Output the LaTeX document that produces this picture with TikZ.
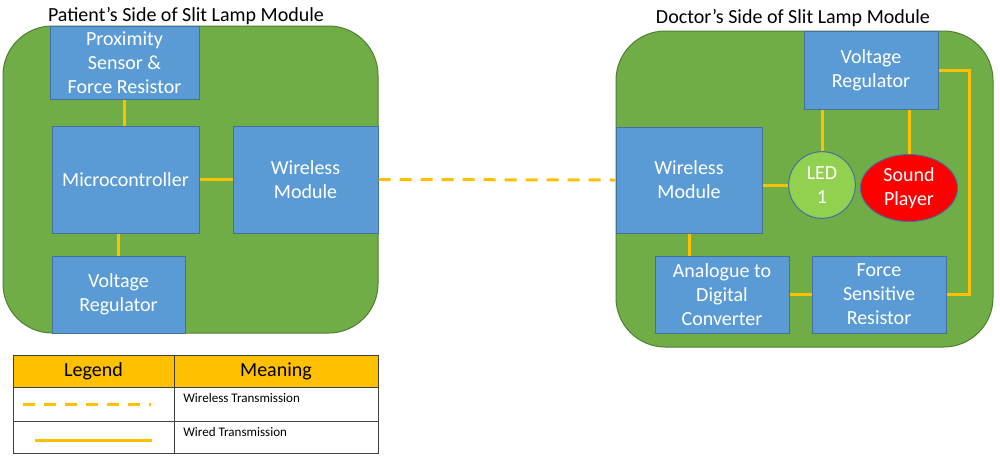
\documentclass[tikz,border=0pt]{standalone}
\usepackage{fontspec}
\setmainfont{Carlito}
\usetikzlibrary{shapes.geometric}
\definecolor{panelgreen}{HTML}{70AD47}
\definecolor{panelborder}{HTML}{507E32}
\definecolor{boxblue}{HTML}{5B9BD5}
\definecolor{boxborder}{HTML}{41719C}
\definecolor{wire}{HTML}{FFC000}
\definecolor{ledgreen}{HTML}{92D050}
\definecolor{sndred}{HTML}{FF0000}
\definecolor{tablegray}{HTML}{404040}
\tikzset{
  panel/.style={fill=panelgreen, draw=panelborder, line width=0.75pt, rounded corners=37pt},
  box/.style={fill=boxblue, draw=boxborder, line width=0.75pt, inner sep=0pt, text=white, align=center,
    font=\fontsize{15}{18}\selectfont},
  wired/.style={draw=wire, line width=2.25pt},
  wireless/.style={draw=wire, line width=2.25pt, dash pattern=on 9pt off 6.75pt},
  title/.style={font=\fontsize{15}{18}\selectfont, text=black},
  cell/.style={draw=tablegray, line width=0.75pt, inner sep=0pt},
  small/.style={font=\fontsize{9.8}{11}\selectfont, text=black, anchor=west, inner sep=0pt}
}
\begin{document}
\begin{tikzpicture}[x=0.75pt, y=-0.75pt]
\useasboundingbox (0,0) rectangle (1000,462);
% panels
\draw[panel] (3,26) rectangle (378,333);
\draw[panel] (616,31) rectangle (993,347);
% titles
\node[title] (ltitle) at (186,16) {Patient’s Side of Slit Lamp Module};
\node[title] (rtitle) at (793,18) {Doctor’s Side of Slit Lamp Module};
% left side boxes
\node[box, minimum width=111.75pt, minimum height=54.75pt] (prox) at (124.5,62.5) {Proximity\\Sensor \&\\Force Resistor};
\node[box, minimum width=110.25pt, minimum height=80.25pt] (micro) at (125.5,179.5) {Microcontroller};
\node[box, minimum width=108.75pt, minimum height=80.25pt] (wl) at (305.5,179.5) {Wireless\\Module};
\node[box, minimum width=99.75pt, minimum height=57.75pt] (vrl) at (118.5,294.5) {Voltage\\Regulator};
% right side boxes
\node[box, minimum width=100.5pt, minimum height=58.5pt] (vrr) at (871,70) {Voltage\\Regulator};
\node[box, minimum width=109.5pt, minimum height=79.5pt] (wr) at (689,180) {Wireless\\Module};
\node[box, minimum width=100.5pt, minimum height=57.75pt] (adc) at (722,294.5) {Analogue to\\Digital\\Converter};
\node[box, minimum width=100.5pt, minimum height=57.75pt] (fsr) at (879,294.5) {Force\\Sensitive\\Resistor};
\node[box, circle, fill=ledgreen, minimum size=50pt] (led) at (822,185) {LED\\1};
\node[box, ellipse, fill=sndred, minimum width=72.75pt, minimum height=50.25pt] (snd) at (909,188) {Sound\\Player};
% left connectors
\draw[wired] (prox.south) -- (prox.south |- micro.north);
\draw[wired] (vrl.north) -- (vrl.north |- micro.south);
\draw[wired] (micro.east) -- (wl.west);
% wireless link
\draw[wireless] (wl.east) -- (wr.west);
% right connectors
\draw[wired] (led.north) -- (led.north |- vrr.south);
\draw[wired] (snd.north) -- (snd.north |- vrr.south);
\draw[wired] (wr.east |- led.west) -- (led.west);
\draw[wired] (wr.south) -- (wr.south |- adc.north);
\draw[wired] (adc.east) -- (fsr.west);
\draw[wired] (vrr.east) -- ++(31,0) |- (fsr.east);
% legend table
\node[cell, fill=wire, minimum width=120.75pt, minimum height=24pt, font=\fontsize{15}{18}\selectfont] (h1) at (93.5,371) {Legend};
\node[cell, fill=wire, minimum width=153pt, minimum height=24pt, font=\fontsize{15}{18}\selectfont] (h2) at (276,371) {Meaning};
\node[cell, minimum width=120.75pt, minimum height=25.5pt] (c1) at (93.5,404) {};
\node[cell, minimum width=153pt, minimum height=25.5pt] (c2) at (276,404) {};
\node[cell, minimum width=120.75pt, minimum height=24pt] (c3) at (93.5,437) {};
\node[cell, minimum width=153pt, minimum height=24pt] (c4) at (276,437) {};
\coordinate (d1) at (23,404);
\coordinate (d2) at (151,404);
\coordinate (s1) at (35,440);
\coordinate (s2) at (152,440);
\draw[wireless] (d1) -- (d2);
\draw[wired] (s1) -- (s2);
\node[small] (t1) at (183,398) {Wireless Transmission};
\node[small] (t2) at (183,432) {Wired Transmission};
\end{tikzpicture}
\end{document}
